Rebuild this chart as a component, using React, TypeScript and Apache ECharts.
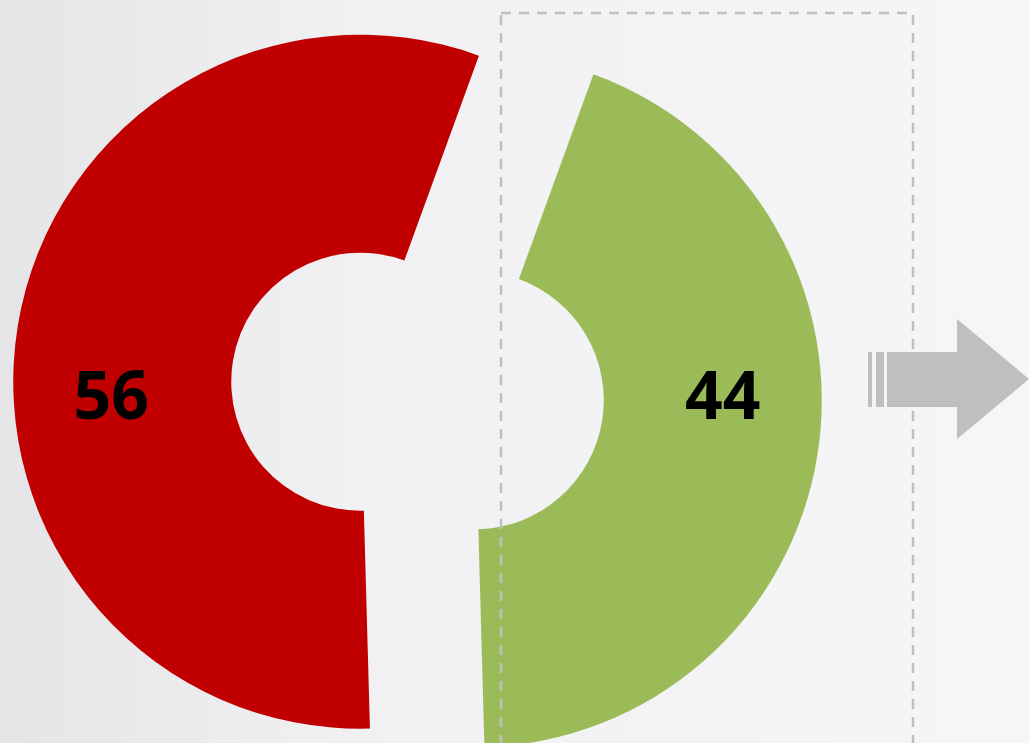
import React, { useEffect, useRef } from "react";
import * as echarts from "echarts";

const categories = ["Red", "Green"];
const values = [56, 44];
const colors = ["#c00000", "#9bbb59"];
const labelShifts = [
  [-11, 50],
  [10, -46],
];

export default function App() {
  const ref = useRef<HTMLDivElement>(null);
  useEffect(() => {
    if (!ref.current) return;
    const chart = echarts.init(ref.current, undefined, { renderer: "svg" });
    const data = categories.map((name, i) => ({
      name,
      value: values[i],
      selected: true,
      itemStyle: { color: colors[i] },
      select: { itemStyle: { color: colors[i], borderWidth: 0 } },
    }));
    chart.setOption({
      animation: false,
      backgroundColor: {
        type: "linear",
        x: 0,
        y: 0,
        x2: 1,
        y2: 0,
        colorStops: [
          { offset: 0, color: "#e5e5e7" },
          { offset: 0.35, color: "#f1f1f3" },
          { offset: 1, color: "#f6f6f8" },
        ],
      },
      series: [
        {
          type: "pie",
          center: [417.5, 391],
          radius: [129, 347],
          startAngle: -88.4,
          clockwise: true,
          selectedMode: "multiple",
          selectedOffset: 58,
          silent: true,
          emphasis: { disabled: true },
          itemStyle: { borderWidth: 0 },
          label: {
            show: true,
            position: "inside",
            rotate: 0,
            formatter: "{c}",
            fontFamily: "Open Sans",
            fontWeight: "bold",
            fontSize: 66,
            color: "#000000",
          },
          labelLayout: (params: any) => ({
            dx: labelShifts[params.dataIndex][0],
            dy: labelShifts[params.dataIndex][1],
          }),
          labelLine: { show: false },
          data,
        },
      ],
      graphic: [
        {
          type: "rect",
          z: 100,
          shape: { x: 501, y: 13, width: 412, height: 800 },
          style: { fill: "none", stroke: "#c0c0c0", lineWidth: 2.5, lineDash: [10, 8] },
        },
        {
          type: "polygon",
          z: 110,
          shape: {
            points: [
              [887, 352],
              [957, 352],
              [957, 319],
              [1029, 379],
              [957, 439],
              [957, 407],
              [887, 407],
            ],
          },
          style: { fill: "#bfbfbf" },
        },
        {
          type: "rect",
          z: 110,
          shape: { x: 868, y: 352, width: 4, height: 55 },
          style: { fill: "#bfbfbf" },
        },
        {
          type: "rect",
          z: 110,
          shape: { x: 876, y: 352, width: 8, height: 55 },
          style: { fill: "#bfbfbf" },
        },
      ],
    });
    return () => chart.dispose();
  }, []);
  return (
    <div
      ref={ref}
      style={{ position: "fixed", left: 0, top: 0, width: 1029, height: 743 }}
    />
  );
}
